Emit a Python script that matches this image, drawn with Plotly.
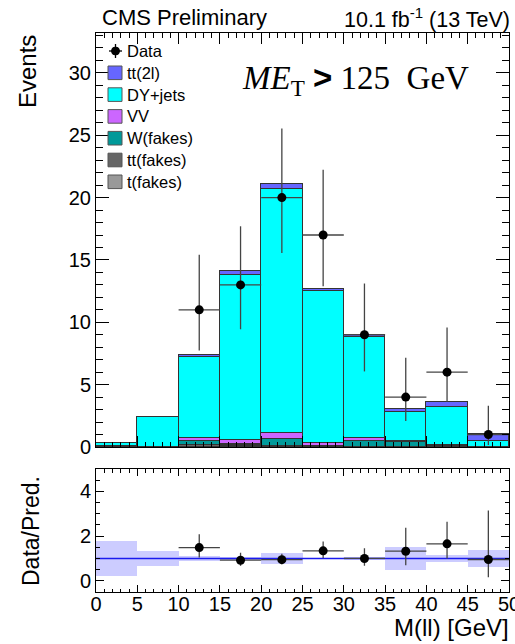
import plotly.graph_objects as go

# ---------------- data ----------------
bin_lo = [0, 5, 10, 15, 20, 25, 30, 35, 40, 45]
bin_width = 5
bin_centers = [b + bin_width / 2 for b in bin_lo]

t_fakes = [0.03, 0.0, 0.0, 0.05, 0.0, 0.0, 0.0, 0.0, 0.0, 0.0]
tt_fakes = [0.03, 0.0, 0.15, 0.08, 0.05, 0.07, 0.0, 0.0, 0.05, 0.0]
w_fakes = [0.0, 0.0, 0.37, 0.10, 0.60, 0.05, 0.50, 0.37, 0.0, 0.0]
vv = [0.0, 0.0, 0.20, 0.33, 0.45, 0.20, 0.22, 0.08, 0.15, 0.0]
dy_jets = [0.25, 2.40, 6.48, 13.24, 19.56, 12.18, 8.08, 2.38, 3.03, 0.45]
tt_2l = [0.0, 0.0, 0.20, 0.30, 0.45, 0.17, 0.20, 0.19, 0.40, 0.60]

data = [0, 0, 11, 13, 20, 17, 9, 4, 6, 1]
data_err_lo = [0, 0, 3.27, 3.56, 4.44, 4.11, 2.94, 1.91, 2.38, 0.83]
data_err_hi = [0, 0, 4.42, 4.70, 5.55, 5.23, 4.11, 3.16, 3.58, 2.30]

ratio_band = [0.80, 0.33, 0.13, 0.05, 0.26, 0.04, 0.05, 0.53, 0.17, 0.37]

x_ticks = [0, 5, 10, 15, 20, 25, 30, 35, 40, 45, 50]

# ---------------- figure ----------------
stack = [
    ("t(fakes)", t_fakes, "#999999"),
    ("tt(fakes)", tt_fakes, "#666666"),
    ("W(fakes)", w_fakes, "#009999"),
    ("VV", vv, "#cc66ff"),
    ("DY+jets", dy_jets, "#00ffff"),
    ("tt(2l)", tt_2l, "#6666ff"),
]
legend_order = ["tt(2l)", "DY+jets", "VV", "W(fakes)", "tt(fakes)", "t(fakes)"]

fig = go.Figure()
for name, vals, col in stack:
    fig.add_trace(go.Bar(
        x=bin_centers, y=vals, width=bin_width, name=name,
        marker=dict(color=col, line=dict(color="#333333", width=1)),
        xaxis="x", yaxis="y", showlegend=False,
    ))

pred = [sum(v[i] for _, v, _ in stack) for i in range(len(bin_lo))]

idx = [i for i, d in enumerate(data) if d > 0]
err_col = "#444444"
fig.add_trace(go.Scatter(
    x=[bin_centers[i] for i in idx], y=[data[i] for i in idx],
    mode="markers", name="Data", showlegend=False,
    marker=dict(color="black", size=9),
    error_y=dict(type="data", symmetric=False,
                 array=[data_err_hi[i] for i in idx],
                 arrayminus=[data_err_lo[i] for i in idx],
                 color=err_col, thickness=1.3, width=0),
    error_x=dict(type="data", array=[bin_width / 2] * len(idx),
                 color=err_col, thickness=1.3, width=0),
    xaxis="x", yaxis="y",
))

# ratio band
fig.add_trace(go.Bar(
    x=bin_centers, y=[2 * e for e in ratio_band], base=[1 - e for e in ratio_band],
    width=bin_width, marker=dict(color="rgba(153,153,255,0.5)", line=dict(width=0)),
    showlegend=False, xaxis="x2", yaxis="y2",
))
fig.add_trace(go.Scatter(
    x=[0, 50], y=[1, 1], mode="lines", line=dict(color="#1a1aee", width=1.5),
    showlegend=False, xaxis="x2", yaxis="y2",
))
fig.add_trace(go.Scatter(
    x=[bin_centers[i] for i in idx], y=[data[i] / pred[i] for i in idx],
    mode="markers", showlegend=False,
    marker=dict(color="black", size=9),
    error_y=dict(type="data", symmetric=False,
                 array=[data_err_hi[i] / pred[i] for i in idx],
                 arrayminus=[data_err_lo[i] / pred[i] for i in idx],
                 color=err_col, thickness=1.3, width=0),
    error_x=dict(type="data", array=[bin_width / 2] * len(idx),
                 color=err_col, thickness=1.3, width=0),
    xaxis="x2", yaxis="y2",
))

W, H = 515, 644
ml, mr, mt, mb = 96, 6, 33, 52
pw, ph = W - ml - mr, H - mt - mb


def px_x(p):
    return (p - ml) / pw


def px_y(p):
    return (H - mb - p) / ph


font_family = "Liberation Sans, Arial, sans-serif"
axis_common = dict(showline=True, linecolor="black", linewidth=1, mirror="allticks",
                   ticks="inside", tickcolor="black", zeroline=False, showgrid=False,
                   ticklabeloverflow="allow", automargin=False,
                   tickfont=dict(size=20, color="black", family=font_family))

fig.update_layout(
    width=W, height=H,
    margin=dict(l=ml, r=mr, t=mt, b=mb, pad=0, autoexpand=False),
    paper_bgcolor="white", plot_bgcolor="white",
    barmode="stack", bargap=0,
    showlegend=False,
    font=dict(family=font_family, color="black"),
    xaxis=dict(domain=[0, 1], range=[0, 50], anchor="y", tickvals=x_ticks, showticklabels=False,
               ticklen=11, minor=dict(ticks="inside", dtick=1, ticklen=5, tickcolor="black"),
               **axis_common),
    yaxis=dict(domain=[px_y(447), 1], range=[0, 33.2], anchor="x", dtick=5, tick0=0,
               ticklen=13, minor=dict(ticks="inside", dtick=1, ticklen=7, tickcolor="black"),
               **axis_common),
    xaxis2=dict(domain=[0, 1], range=[0, 50], anchor="y2", tickvals=x_ticks,
                ticklen=7, ticklabelstandoff=-6,
                minor=dict(ticks="inside", dtick=1, ticklen=3.5, tickcolor="black"),
                **axis_common),
    yaxis2=dict(domain=[0, px_y(469)], range=[-0.5, 5], anchor="x2", tickvals=[0, 2, 4],
                ticklen=8, minor=dict(ticks="inside", dtick=0.5, ticklen=4, tickcolor="black"),
                **axis_common),
)

ann = [
    dict(text="CMS Preliminary", x=px_x(100), y=px_y(18), xanchor="left", yanchor="middle",
         font=dict(size=22, family=font_family)),
    dict(text="10.1 fb<sup>-1</sup> (13 TeV)", x=px_x(512), y=px_y(18), xanchor="right", yanchor="middle",
         font=dict(size=21.5, family=font_family)),
    dict(text="Events", x=px_x(27), y=px_y(72), xanchor="center", yanchor="middle", textangle=-90,
         font=dict(size=24, family=font_family)),
    dict(text="Data/Pred.", x=px_x(31), y=px_y(531), xanchor="center", yanchor="middle", textangle=-90,
         font=dict(size=23, family=font_family)),
    dict(text="M(ll) [GeV]", x=px_x(511), y=px_y(627), xanchor="right", yanchor="middle",
         font=dict(size=24, family=font_family)),
    dict(text="<i>ME</i><sub>T</sub> <span style=\"font-family:Liberation Sans;font-weight:bold\">></span> 125  GeV",
         x=px_x(355), y=px_y(80), xanchor="center", yanchor="middle",
         font=dict(size=33, family="Liberation Serif, Times New Roman, serif")),
]

# ---- legend (drawn manually to match ROOT layout) ----
shapes = []
leg_x0, leg_x1 = 108, 122
leg_text_x = 125
row_y0, row_dy = 51, 21.8
colors = {n: c for n, _, c in stack}
# Data entry: marker with cross
shapes.append(dict(type="line", x0=px_x(109), x1=px_x(122), y0=px_y(row_y0), y1=px_y(row_y0),
                   line=dict(color="black", width=1.3)))
shapes.append(dict(type="line", x0=px_x(115.5), x1=px_x(115.5), y0=px_y(row_y0 - 7), y1=px_y(row_y0 + 7),
                   line=dict(color="black", width=1.3)))
shapes.append(dict(type="circle", x0=px_x(111.5), x1=px_x(119.5), y0=px_y(row_y0 - 4), y1=px_y(row_y0 + 4),
                   fillcolor="black", line=dict(color="black", width=1)))
ann.append(dict(text="Data", x=px_x(leg_text_x), y=px_y(row_y0), xanchor="left", yanchor="middle",
                font=dict(size=16.5, family=font_family)))
for k, name in enumerate(legend_order):
    yc = row_y0 + row_dy * (k + 1)
    shapes.append(dict(type="rect", x0=px_x(leg_x0), x1=px_x(leg_x1), y0=px_y(yc - 6.8), y1=px_y(yc + 6.8),
                       fillcolor=colors[name], line=dict(color="#555555", width=1)))
    ann.append(dict(text=name, x=px_x(leg_text_x), y=px_y(yc), xanchor="left", yanchor="middle",
                    font=dict(size=16.5, family=font_family)))

for a in ann:
    a.update(xref="paper", yref="paper", showarrow=False)
for s in shapes:
    s.update(xref="paper", yref="paper")
fig.update_layout(annotations=ann, shapes=shapes)

fig.write_html("out.html")
